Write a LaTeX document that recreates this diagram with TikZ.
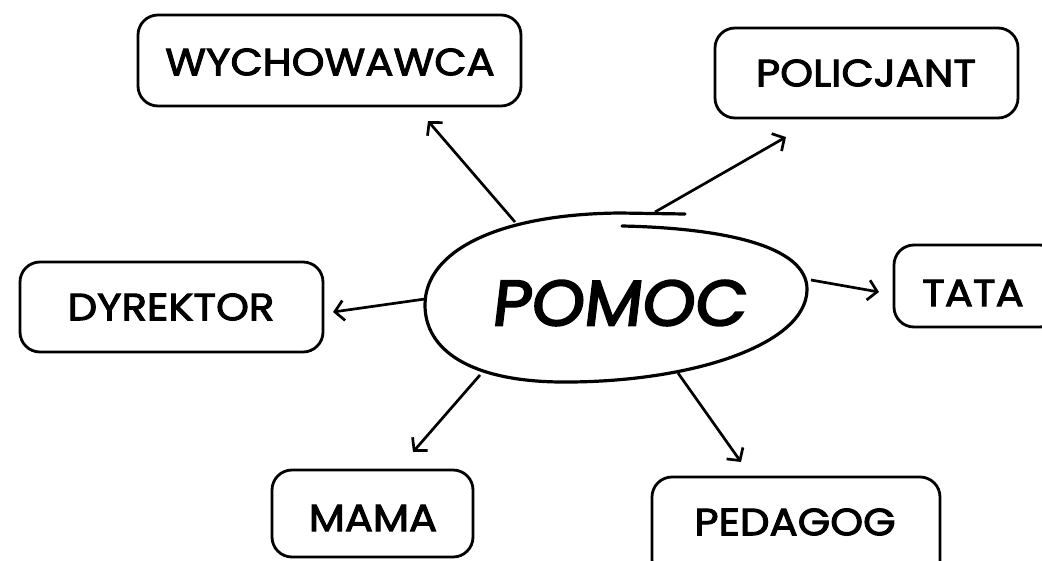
\documentclass[tikz,border=0pt]{standalone}
\usepackage{fontspec}
\setmainfont{Poppins}[FakeBold=2.6,FakeStretch=1.1]
\newfontfamily\slfont{Poppins}[FakeSlant=0.12,FakeBold=3,FakeStretch=1.05]
\usetikzlibrary{arrows.meta}
\begin{document}
\begin{tikzpicture}[x=1pt,y=-1pt,
  box/.style={draw,line width=2.8pt,rounded corners=20pt},
  label/.style={font=\fontsize{38}{38}\selectfont},
  link/.style={line width=2.7pt,-{Straight Barb[length=9pt,width=20pt,line width=2.7pt]}},
  outline/.style={line width=3.2pt,line cap=round}]
\useasboundingbox (0,0) rectangle (1042,560);
% boxes
\draw[box] (138,15) rectangle (521,106);
\node[label] (wych) at (330,62) {WYCHOWAWCA};
\draw[box] (715,28) rectangle (1018,118);
\node[label] (poli) at (866,73) {POLICJANT};
\draw[box] (20,262) rectangle (323,352);
\node[label] (dyre) at (171,307) {DYREKTOR};
\draw[box] (894,245) rectangle (1060,327);
\node[label] (tata) at (973,293) {TATA};
\draw[box] (272,470) rectangle (473,557);
\node[label] (mama) at (373,518) {MAMA};
\draw[box] (652,477) rectangle (940,580);
\node[label] (peda) at (795,522) {PEDAGOG};
% centre
\node[font=\slfont\fontsize{64}{64}\selectfont] (pomoc) at (618,303) {POMOC};
\draw[outline] (622,226) .. controls (720,228) and (808,245) .. (807,290)
  .. controls (806,345) and (690,383) .. (560,382)
  .. controls (470,381) and (425,350) .. (425,305)
  .. controls (425,250) and (500,214) .. (620,213) -- (685,214);
% arrow ends
\coordinate (a1) at (515,222); \coordinate (b1) at (428,121);
\coordinate (a2) at (655,212); \coordinate (b2) at (786,137);
\coordinate (a3) at (425,299); \coordinate (b3) at (333,312);
\coordinate (a4) at (811,280); \coordinate (b4) at (879,292);
\coordinate (a5) at (480,375); \coordinate (b5) at (413,452);
\coordinate (a6) at (678,373); \coordinate (b6) at (741,462);
\draw[link] (a1) -- (b1);
\draw[link] (a2) -- (b2);
\draw[link] (a3) -- (b3);
\draw[link] (a4) -- (b4);
\draw[link] (a5) -- (b5);
\draw[link] (a6) -- (b6);
\end{tikzpicture}
\end{document}
